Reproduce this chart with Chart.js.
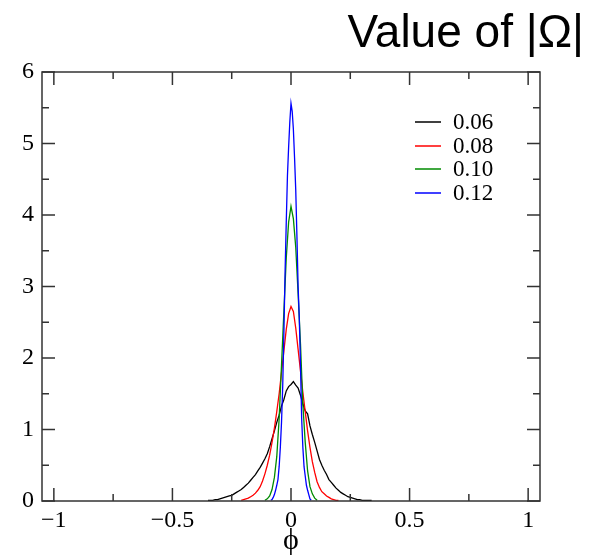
<!DOCTYPE html>
<html>
<head>
<meta charset="utf-8">
<script src="https://cdn.jsdelivr.net/npm/chart.js@4.4.1/dist/chart.umd.min.js"></script>
<style>
  html, body { margin: 0; padding: 0; background: #fff; }
  #wrap { width: 598px; height: 559px; position: relative; }
</style>
</head>
<body>
<div id="wrap"><canvas id="c" width="598" height="559"></canvas></div>
<script>
var seriesLabels = ['0.06', '0.08', '0.10', '0.12']
var seriesColours = ['#000000', '#ff0000', '#008b00', '#0000ff']

// |Omega| = 0.06
var phi06 = [-0.35, -0.34, -0.33, -0.32, -0.31, -0.30, -0.29, -0.28, -0.27, -0.26, -0.25, -0.24, -0.23, -0.22, -0.21, -0.20, -0.19, -0.18, -0.17, -0.16, -0.15, -0.14, -0.13, -0.12, -0.11, -0.10, -0.09, -0.08, -0.07, -0.06, -0.05, -0.04, -0.03, -0.02, -0.01,
  0.00, 0.01, 0.02, 0.03, 0.04, 0.05, 0.06, 0.07, 0.08, 0.09, 0.10, 0.11, 0.12, 0.13, 0.14, 0.15, 0.16, 0.17, 0.18, 0.19, 0.20, 0.21, 0.22, 0.23, 0.24, 0.25, 0.26, 0.27, 0.28, 0.29, 0.30, 0.31, 0.32, 0.33, 0.34]
var dens06 = [0.01, 0.01, 0.01, 0.02, 0.02, 0.03, 0.04, 0.05, 0.06, 0.07, 0.08, 0.10, 0.12, 0.14, 0.16, 0.19, 0.22, 0.25, 0.29, 0.33, 0.37, 0.42, 0.47, 0.53, 0.59, 0.66, 0.76, 0.87, 0.98, 1.10, 1.20, 1.33, 1.42, 1.54, 1.60,
  1.63, 1.67, 1.62, 1.58, 1.48, 1.36, 1.26, 1.22, 1.05, 0.93, 0.82, 0.70, 0.58, 0.50, 0.43, 0.37, 0.30, 0.26, 0.22, 0.18, 0.15, 0.12, 0.10, 0.08, 0.06, 0.05, 0.04, 0.03, 0.02, 0.02, 0.01, 0.01, 0.01, 0.01, 0.01]

// |Omega| = 0.08
var phi08 = [-0.21, -0.20, -0.19, -0.18, -0.17, -0.16, -0.15, -0.14, -0.13, -0.12, -0.11, -0.10, -0.09, -0.08, -0.07, -0.06, -0.05, -0.04, -0.03, -0.02, -0.01,
  0.00, 0.01, 0.02, 0.03, 0.04, 0.05, 0.06, 0.07, 0.08, 0.09, 0.10, 0.11, 0.12, 0.13, 0.14, 0.15, 0.16, 0.17, 0.18, 0.19, 0.20]
var dens08 = [0.01, 0.02, 0.03, 0.04, 0.06, 0.08, 0.11, 0.15, 0.20, 0.28, 0.38, 0.50, 0.64, 0.82, 1.02, 1.25, 1.50, 1.80, 2.10, 2.40, 2.62,
  2.72, 2.65, 2.42, 2.12, 1.82, 1.52, 1.25, 0.98, 0.75, 0.55, 0.40, 0.27, 0.19, 0.13, 0.10, 0.07, 0.05, 0.03, 0.02, 0.01, 0.01]

// |Omega| = 0.10
var phi10 = [-0.11, -0.10, -0.09, -0.08, -0.07, -0.06, -0.05, -0.04, -0.03, -0.02, -0.01,
  0.00, 0.01, 0.02, 0.03, 0.04, 0.05, 0.06, 0.07, 0.08, 0.09, 0.10, 0.11]
var dens10 = [0.01, 0.03, 0.07, 0.16, 0.33, 0.62, 1.15, 1.90, 2.65, 3.40, 3.90,
  4.12, 3.95, 3.55, 2.90, 2.20, 1.35, 0.82, 0.42, 0.20, 0.10, 0.04, 0.01]

// |Omega| = 0.12
var phi12 = [-0.085, -0.080, -0.075, -0.070, -0.065, -0.060, -0.055, -0.050, -0.045, -0.040, -0.035, -0.030, -0.025, -0.020, -0.015, -0.010, -0.005,
  0.000, 0.005, 0.010, 0.015, 0.020, 0.025, 0.030, 0.035, 0.040, 0.045, 0.050, 0.055, 0.060, 0.065, 0.070, 0.075, 0.080, 0.085]
var dens12 = [0.01, 0.02, 0.05, 0.09, 0.15, 0.22, 0.30, 0.48, 0.75, 1.10, 1.60, 2.35, 3.20, 3.90, 4.55, 4.95, 5.30,
  5.56, 5.45, 5.20, 4.80, 4.35, 3.70, 3.00, 2.55, 1.90, 1.15, 0.75, 0.48, 0.35, 0.22, 0.15, 0.09, 0.03, 0.01]

var phiTicks = [-1, -0.5, 0, 0.5, 1]
var densTicks = [0, 1, 2, 3, 4, 5, 6]

function toPoints (xs, ys) {
  var pts = []
  for (var i = 0; i < xs.length; i++) pts.push({ x: xs[i], y: ys[i] })
  return pts
}

function fmtMinus (v) {
  var s = String(v)
  return s.replace('-', '\u2212')
}

var allPhi = [phi06, phi08, phi10, phi12]
var allDens = [dens06, dens08, dens10, dens12]
var datasets = []
for (var k = 0; k < allPhi.length; k++) {
  datasets.push({
    label: seriesLabels[k],
    data: toPoints(allPhi[k], allDens[k]),
    borderColor: seriesColours[k],
    borderWidth: 1.3,
    pointRadius: 0,
    tension: 0,
    fill: false,
    order: allPhi.length - k
  })
}

// frame, inward ticks (major + minor) on all four sides, legend and title
var framePlugin = {
  id: 'frame',
  afterDatasetsDraw: function (chart) {
    var ctx = chart.ctx
    var a = chart.chartArea
    var xs = chart.scales.x
    var ys = chart.scales.y
    ctx.save()
    ctx.strokeStyle = '#333'
    ctx.lineWidth = 1.5
    ctx.strokeRect(a.left, a.top, a.right - a.left, a.bottom - a.top)

    ctx.beginPath()
    var i, p
    for (i = 0; i < phiTicks.length; i++) {
      p = xs.getPixelForValue(phiTicks[i])
      ctx.moveTo(p, a.bottom); ctx.lineTo(p, a.bottom - 13)
      ctx.moveTo(p, a.top); ctx.lineTo(p, a.top + 13)
      if (i < phiTicks.length - 1) {
        p = xs.getPixelForValue((phiTicks[i] + phiTicks[i + 1]) / 2)
        ctx.moveTo(p, a.bottom); ctx.lineTo(p, a.bottom - 7)
        ctx.moveTo(p, a.top); ctx.lineTo(p, a.top + 7)
      }
    }
    for (i = 0; i < densTicks.length; i++) {
      p = ys.getPixelForValue(densTicks[i])
      ctx.moveTo(a.left, p); ctx.lineTo(a.left + 13, p)
      ctx.moveTo(a.right, p); ctx.lineTo(a.right - 13, p)
      if (i < densTicks.length - 1) {
        p = ys.getPixelForValue((densTicks[i] + densTicks[i + 1]) / 2)
        ctx.moveTo(a.left, p); ctx.lineTo(a.left + 7, p)
        ctx.moveTo(a.right, p); ctx.lineTo(a.right - 7, p)
      }
    }
    ctx.stroke()

    // legend
    ctx.font = '23px "Liberation Serif", "DejaVu Serif", serif'
    ctx.textBaseline = 'middle'
    ctx.textAlign = 'left'
    for (i = 0; i < seriesLabels.length; i++) {
      var y = Math.round(122 + i * 23.5)
      ctx.strokeStyle = seriesColours[i]
      ctx.lineWidth = 1.5
      ctx.beginPath()
      ctx.moveTo(415, y); ctx.lineTo(441, y)
      ctx.stroke()
      ctx.fillStyle = '#000'
      ctx.fillText(seriesLabels[i], 453, y + 1)
    }

    // title
    ctx.font = '46px "Liberation Sans", Arial, sans-serif'
    ctx.textAlign = 'right'
    ctx.textBaseline = 'alphabetic'
    ctx.fillStyle = '#000'
    ctx.fillText('Value of |\u03A9|', 584, 47)
    ctx.restore()
  }
}

new Chart(document.getElementById('c'), {
  type: 'line',
  data: { datasets: datasets },
  options: {
    responsive: false,
    animation: false,
    devicePixelRatio: 1,
    layout: { padding: { top: 72, right: 58, left: 0, bottom: 0 } },
    plugins: {
      legend: { display: false },
      tooltip: { enabled: false },
      title: { display: false }
    },
    scales: {
      x: {
        type: 'linear',
        min: -1.05,
        max: 1.05,
        afterFit: function (s) { s.height = 58 },
        afterBuildTicks: function (s) { s.ticks = phiTicks.map(function (v) { return { value: v } }) },
        grid: { display: false, drawTicks: false },
        border: { display: false },
        ticks: {
          padding: 5,
          color: '#000',
          maxRotation: 0,
          font: { family: '"Liberation Serif", serif', size: 24 },
          callback: function (v) { return fmtMinus(v) }
        },
        title: {
          display: true,
          text: '\u03D5',
          color: '#000',
          padding: { top: 0, bottom: 0 },
          font: { family: '"Liberation Serif", "DejaVu Serif", serif', size: 30 }
        }
      },
      y: {
        type: 'linear',
        min: 0,
        max: 6,
        afterFit: function (s) { s.width = 42 },
        afterBuildTicks: function (s) { s.ticks = densTicks.map(function (v) { return { value: v } }) },
        grid: { display: false, drawTicks: false },
        border: { display: false },
        ticks: {
          padding: 8,
          color: '#000',
          font: { family: '"Liberation Serif", serif', size: 24 },
          callback: function (v) { return fmtMinus(v) }
        }
      }
    }
  },
  plugins: [framePlugin]
})
</script>
</body>
</html>
